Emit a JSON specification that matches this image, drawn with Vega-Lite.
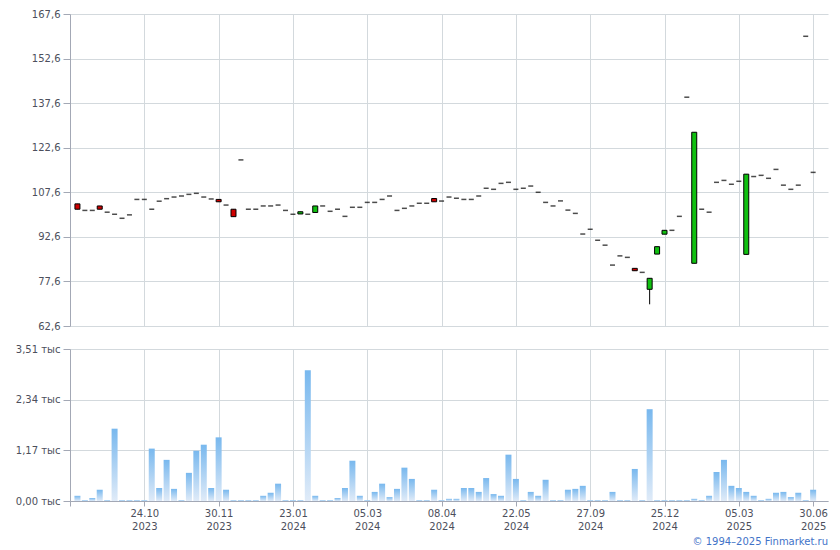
{
  "$schema": "https://vega.github.io/schema/vega-lite/v6.json",
  "padding": {"left": 5, "top": 9, "right": 5, "bottom": 5},
  "background": "white",
  "spacing": 23,
  "bounds": "flush",
  "config": {
    "view": {"stroke": null},
    "font": "DejaVu Sans",
    "axis": {
      "labelFont": "DejaVu Sans",
      "labelFontSize": 10,
      "labelColor": "#4c4f5c",
      "domainColor": "#a3a8b5",
      "tickColor": "#a3a8b5",
      "gridColor": "#d3d9dd",
      "gridWidth": 1,
      "domainWidth": 1,
      "title": null,
      "labelOverlap": false,
      "labelFlush": false
    }
  },
  "title": {
    "text": "© 1994–2025 Finmarket.ru",
    "orient": "bottom",
    "anchor": "end",
    "fontSize": 10,
    "fontWeight": "normal",
    "color": "#3f73c8",
    "font": "DejaVu Sans",
    "offset": 6
  },
  "datasets": {
    "p": [
      {"i":0,"o":103.7,"h":103.7,"l":101.9,"c":101.9,"d":"down","v":120},
      {"i":1,"o":101.5,"h":101.5,"l":101.5,"c":101.5,"d":"flat","v":20},
      {"i":2,"o":101.5,"h":101.5,"l":101.5,"c":101.5,"d":"flat","v":70},
      {"i":3,"o":103.0,"h":103.0,"l":101.9,"c":101.9,"d":"down","v":260},
      {"i":4,"o":100.9,"h":100.9,"l":100.9,"c":100.9,"d":"flat","v":20},
      {"i":5,"o":100.2,"h":100.2,"l":100.2,"c":100.2,"d":"flat","v":1670},
      {"i":6,"o":98.85,"h":98.85,"l":98.85,"c":98.85,"d":"flat","v":20},
      {"i":7,"o":100.0,"h":100.0,"l":100.0,"c":100.0,"d":"flat","v":20},
      {"i":8,"o":105.2,"h":105.2,"l":105.2,"c":105.2,"d":"flat","v":20},
      {"i":9,"o":105.2,"h":105.2,"l":105.2,"c":105.2,"d":"flat","v":20},
      {"i":10,"o":101.9,"h":101.9,"l":101.9,"c":101.9,"d":"flat","v":1210},
      {"i":11,"o":104.6,"h":104.6,"l":104.6,"c":104.6,"d":"flat","v":300},
      {"i":12,"o":105.45,"h":105.45,"l":105.45,"c":105.45,"d":"flat","v":950},
      {"i":13,"o":106.0,"h":106.0,"l":106.0,"c":106.0,"d":"flat","v":280},
      {"i":14,"o":106.35,"h":106.35,"l":106.35,"c":106.35,"d":"flat","v":20},
      {"i":15,"o":106.9,"h":106.9,"l":106.9,"c":106.9,"d":"flat","v":650},
      {"i":16,"o":107.25,"h":107.25,"l":107.25,"c":107.25,"d":"flat","v":1160},
      {"i":17,"o":106.0,"h":106.0,"l":106.0,"c":106.0,"d":"flat","v":1300},
      {"i":18,"o":105.35,"h":105.35,"l":105.35,"c":105.35,"d":"flat","v":300},
      {"i":19,"o":105.2,"h":105.2,"l":104.4,"c":104.4,"d":"down","v":1470},
      {"i":20,"o":103.3,"h":103.3,"l":103.3,"c":103.3,"d":"flat","v":260},
      {"i":21,"o":101.9,"h":101.9,"l":99.4,"c":99.4,"d":"down","v":20},
      {"i":22,"o":118.5,"h":118.5,"l":118.5,"c":118.5,"d":"flat","v":20},
      {"i":23,"o":101.9,"h":101.9,"l":101.9,"c":101.9,"d":"flat","v":20},
      {"i":24,"o":101.9,"h":101.9,"l":101.9,"c":101.9,"d":"flat","v":20},
      {"i":25,"o":103.0,"h":103.0,"l":103.0,"c":103.0,"d":"flat","v":120},
      {"i":26,"o":103.0,"h":103.0,"l":103.0,"c":103.0,"d":"flat","v":190},
      {"i":27,"o":103.3,"h":103.3,"l":103.3,"c":103.3,"d":"flat","v":400},
      {"i":28,"o":101.5,"h":101.5,"l":101.5,"c":101.5,"d":"flat","v":20},
      {"i":29,"o":100.2,"h":100.2,"l":100.2,"c":100.2,"d":"flat","v":20},
      {"i":30,"o":100.3,"h":101.05,"l":100.3,"c":101.05,"d":"up","v":20},
      {"i":31,"o":100.2,"h":100.2,"l":100.2,"c":100.2,"d":"flat","v":3020},
      {"i":32,"o":100.8,"h":103.0,"l":100.8,"c":103.0,"d":"up","v":120},
      {"i":33,"o":103.0,"h":103.0,"l":103.0,"c":103.0,"d":"flat","v":20},
      {"i":34,"o":101.2,"h":101.2,"l":101.2,"c":101.2,"d":"flat","v":20},
      {"i":35,"o":101.9,"h":101.9,"l":101.9,"c":101.9,"d":"flat","v":70},
      {"i":36,"o":99.5,"h":99.5,"l":99.5,"c":99.5,"d":"flat","v":300},
      {"i":37,"o":102.55,"h":102.55,"l":102.55,"c":102.55,"d":"flat","v":930},
      {"i":38,"o":102.55,"h":102.55,"l":102.55,"c":102.55,"d":"flat","v":120},
      {"i":39,"o":104.2,"h":104.2,"l":104.2,"c":104.2,"d":"flat","v":20},
      {"i":40,"o":104.2,"h":104.2,"l":104.2,"c":104.2,"d":"flat","v":210},
      {"i":41,"o":105.2,"h":105.2,"l":105.2,"c":105.2,"d":"flat","v":400},
      {"i":42,"o":106.35,"h":106.35,"l":106.35,"c":106.35,"d":"flat","v":90},
      {"i":43,"o":101.5,"h":101.5,"l":101.5,"c":101.5,"d":"flat","v":280},
      {"i":44,"o":102.2,"h":102.2,"l":102.2,"c":102.2,"d":"flat","v":770},
      {"i":45,"o":103.0,"h":103.0,"l":103.0,"c":103.0,"d":"flat","v":510},
      {"i":46,"o":103.9,"h":103.9,"l":103.9,"c":103.9,"d":"flat","v":20},
      {"i":47,"o":103.9,"h":103.9,"l":103.9,"c":103.9,"d":"flat","v":20},
      {"i":48,"o":105.5,"h":105.5,"l":104.4,"c":104.4,"d":"down","v":260},
      {"i":49,"o":104.65,"h":104.65,"l":104.65,"c":104.65,"d":"flat","v":20},
      {"i":50,"o":106.0,"h":106.0,"l":106.0,"c":106.0,"d":"flat","v":50},
      {"i":51,"o":105.6,"h":105.6,"l":105.6,"c":105.6,"d":"flat","v":50},
      {"i":52,"o":105.2,"h":105.2,"l":105.2,"c":105.2,"d":"flat","v":300},
      {"i":53,"o":105.2,"h":105.2,"l":105.2,"c":105.2,"d":"flat","v":300},
      {"i":54,"o":106.35,"h":106.35,"l":106.35,"c":106.35,"d":"flat","v":210},
      {"i":55,"o":108.95,"h":108.95,"l":108.95,"c":108.95,"d":"flat","v":530},
      {"i":56,"o":108.6,"h":108.6,"l":108.6,"c":108.6,"d":"flat","v":160},
      {"i":57,"o":110.6,"h":110.6,"l":110.6,"c":110.6,"d":"flat","v":120},
      {"i":58,"o":110.95,"h":110.95,"l":110.95,"c":110.95,"d":"flat","v":1070},
      {"i":59,"o":108.6,"h":108.6,"l":108.6,"c":108.6,"d":"flat","v":510},
      {"i":60,"o":108.95,"h":108.95,"l":108.95,"c":108.95,"d":"flat","v":20},
      {"i":61,"o":109.7,"h":109.7,"l":109.7,"c":109.7,"d":"flat","v":210},
      {"i":62,"o":107.6,"h":107.6,"l":107.6,"c":107.6,"d":"flat","v":120},
      {"i":63,"o":104.2,"h":104.2,"l":104.2,"c":104.2,"d":"flat","v":490},
      {"i":64,"o":103.0,"h":103.0,"l":103.0,"c":103.0,"d":"flat","v":20},
      {"i":65,"o":104.7,"h":104.7,"l":104.7,"c":104.7,"d":"flat","v":20},
      {"i":66,"o":101.6,"h":101.6,"l":101.6,"c":101.6,"d":"flat","v":260},
      {"i":67,"o":100.5,"h":100.5,"l":100.5,"c":100.5,"d":"flat","v":280},
      {"i":68,"o":93.55,"h":93.55,"l":93.55,"c":93.55,"d":"flat","v":350},
      {"i":69,"o":95.15,"h":95.15,"l":95.15,"c":95.15,"d":"flat","v":20},
      {"i":70,"o":91.45,"h":91.45,"l":91.45,"c":91.45,"d":"flat","v":20},
      {"i":71,"o":89.8,"h":89.8,"l":89.8,"c":89.8,"d":"flat","v":20},
      {"i":72,"o":83.1,"h":83.1,"l":83.1,"c":83.1,"d":"flat","v":210},
      {"i":73,"o":86.2,"h":86.2,"l":86.2,"c":86.2,"d":"flat","v":20},
      {"i":74,"o":85.7,"h":85.7,"l":85.7,"c":85.7,"d":"flat","v":20},
      {"i":75,"o":82.0,"h":82.0,"l":81.2,"c":81.2,"d":"down","v":740},
      {"i":76,"o":80.65,"h":80.65,"l":80.65,"c":80.65,"d":"flat","v":20},
      {"i":77,"o":74.95,"h":78.65,"l":69.9,"c":78.65,"d":"up","v":2120},
      {"i":78,"o":86.8,"h":89.3,"l":86.8,"c":89.3,"d":"up","v":20},
      {"i":79,"o":93.5,"h":94.8,"l":93.5,"c":94.8,"d":"up","v":20},
      {"i":80,"o":94.8,"h":94.8,"l":94.8,"c":94.8,"d":"flat","v":20},
      {"i":81,"o":99.5,"h":99.5,"l":99.5,"c":99.5,"d":"flat","v":20},
      {"i":82,"o":139.6,"h":139.6,"l":139.6,"c":139.6,"d":"flat","v":20},
      {"i":83,"o":83.7,"h":127.8,"l":83.7,"c":127.8,"d":"up","v":50},
      {"i":84,"o":101.9,"h":101.9,"l":101.9,"c":101.9,"d":"flat","v":20},
      {"i":85,"o":100.9,"h":100.9,"l":100.9,"c":100.9,"d":"flat","v":120},
      {"i":86,"o":110.95,"h":110.95,"l":110.95,"c":110.95,"d":"flat","v":670},
      {"i":87,"o":111.6,"h":111.6,"l":111.6,"c":111.6,"d":"flat","v":950},
      {"i":88,"o":110.3,"h":110.3,"l":110.3,"c":110.3,"d":"flat","v":350},
      {"i":89,"o":111.3,"h":111.3,"l":111.3,"c":111.3,"d":"flat","v":300},
      {"i":90,"o":86.7,"h":113.7,"l":86.7,"c":113.7,"d":"up","v":210},
      {"i":91,"o":112.9,"h":112.9,"l":112.9,"c":112.9,"d":"flat","v":120},
      {"i":92,"o":113.3,"h":113.3,"l":113.3,"c":113.3,"d":"flat","v":20},
      {"i":93,"o":112.3,"h":112.3,"l":112.3,"c":112.3,"d":"flat","v":50},
      {"i":94,"o":115.3,"h":115.3,"l":115.3,"c":115.3,"d":"flat","v":190},
      {"i":95,"o":110.0,"h":110.0,"l":110.0,"c":110.0,"d":"flat","v":210},
      {"i":96,"o":108.6,"h":108.6,"l":108.6,"c":108.6,"d":"flat","v":90},
      {"i":97,"o":110.0,"h":110.0,"l":110.0,"c":110.0,"d":"flat","v":190},
      {"i":98,"o":160.1,"h":160.1,"l":160.1,"c":160.1,"d":"flat","v":20},
      {"i":99,"o":114.3,"h":114.3,"l":114.3,"c":114.3,"d":"flat","v":260}
    ]
  },
  "vconcat": [
    {
      "width": 758,
      "height": 312,
      "data": {"name": "p"},
      "encoding": {
        "x": {
          "field": "i",
          "type": "quantitative",
          "scale": {"domain": [-1, 101], "nice": false, "zero": false, "padding": 0},
          "axis": {"values": [9,19,29,39,49,59,69,79,89,99], "labels": false, "ticks": false, "domain": false, "grid": true}
        }
      },
      "layer": [
        {
          "mark": {"type": "rule", "color": "black", "strokeWidth": 1},
          "encoding": {
            "y": {
              "field": "l",
              "type": "quantitative",
              "scale": {"domain": [62.6, 167.6], "nice": false, "zero": false},
              "axis": {
                "values": [62.6, 77.6, 92.6, 107.6, 122.6, 137.6, 152.6, 167.6],
                "labelExpr": "replace(format(datum.value, '.1f'), '.', ',')",
                "tickSize": 7,
                "labelPadding": 3,
                "minExtent": 65,
                "maxExtent": 65,
                "grid": true,
                "domain": true
              }
            },
            "y2": {"field": "h"}
          }
        },
        {
          "transform": [{"filter": "datum.o != datum.c"}],
          "mark": {"type": "bar", "width": 5, "stroke": "black", "strokeWidth": 1},
          "encoding": {
            "y": {"field": "o", "type": "quantitative"},
            "y2": {"field": "c"},
            "fill": {"field": "d", "type": "nominal", "scale": {"domain": ["up", "down"], "range": ["#10c010", "#d00000"]}, "legend": null}
          }
        },
        {
          "transform": [{"filter": "datum.o == datum.c"}],
          "mark": {"type": "tick", "orient": "horizontal", "color": "black", "thickness": 1.5, "size": 5},
          "encoding": {
            "y": {"field": "c", "type": "quantitative"}
          }
        }
      ]
    },
    {
      "width": 758,
      "height": 152,
      "data": {"name": "p"},
      "mark": {
        "type": "bar",
        "width": 6,
        "color": {"gradient": "linear", "x1": 0, "y1": 0, "x2": 0, "y2": 1, "stops": [{"offset": 0, "color": "#78b8ee"}, {"offset": 1, "color": "#e0ebf8"}]}
      },
      "encoding": {
        "x": {
          "field": "i",
          "type": "quantitative",
          "scale": {"domain": [-1, 101], "nice": false, "zero": false, "padding": 0},
          "axis": {
            "values": [-1, 9, 19, 29, 39, 49, 59, 69, 79, 89, 99],
            "labelExpr": "({'9':['24.10','2023'],'19':['30.11','2023'],'29':['23.01','2024'],'39':['05.03','2024'],'49':['08.04','2024'],'59':['22.05','2024'],'69':['27.09','2024'],'79':['25.12','2024'],'89':['05.03','2025'],'99':['30.06','2025']})[datum.value] || ''",
            "tickSize": 5,
            "labelPadding": 2,
            "labelLineHeight": 13,
            "grid": true,
            "domain": true
          }
        },
        "y": {
          "field": "v",
          "type": "quantitative",
          "scale": {"domain": [0, 3510], "nice": false},
          "axis": {
            "values": [0, 1170, 2340, 3510],
            "labelExpr": "replace(format(datum.value / 1000, '.2f'), '.', ',') + ' тыс'",
            "tickSize": 7,
            "labelPadding": 3,
            "minExtent": 65,
            "maxExtent": 65,
            "grid": true,
            "domain": true
          }
        }
      }
    }
  ]
}
